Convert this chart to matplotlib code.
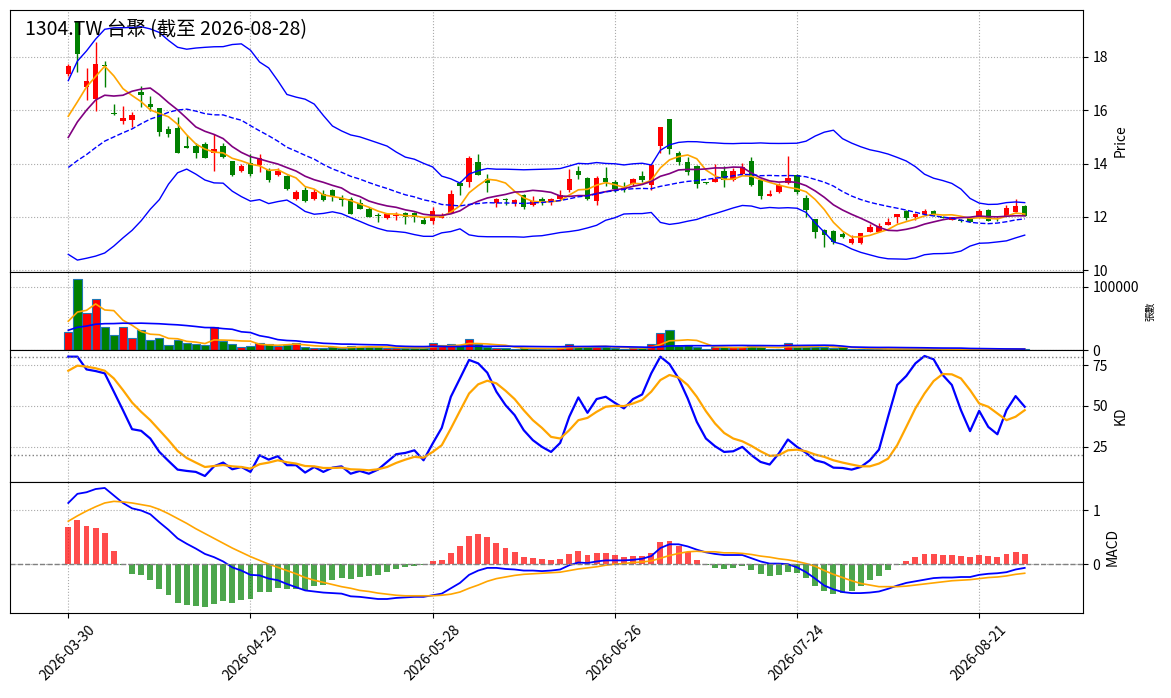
import numpy as np
import pandas as pd
import matplotlib
matplotlib.use("Agg")
import matplotlib.pyplot as plt

plt.rcParams['font.family'] = ['Noto Sans CJK TC', 'DejaVu Sans']
plt.rcParams['axes.unicode_minus'] = False

# trading days (TWSE holidays removed)
holidays = ["2026-04-03", "2026-04-06", "2026-05-01", "2026-06-19"]
dates = pd.bdate_range("2026-03-30", "2026-08-28", freq="C", holidays=holidays)

opens = [17.36, 19.30, 16.86, 16.42, 17.70, 15.88, 15.60, 15.62, 16.69, 16.23,
         16.08, 15.28, 15.35, 14.65, 14.65, 14.75, 14.40, 14.65, 14.09, 13.71,
         14.03, 13.96, 13.74, 13.58, 13.55, 12.67, 13.02, 12.67, 12.86, 13.02,
         12.70, 12.67, 12.52, 12.30, 12.06, 11.95, 12.04, 12.14, 12.14, 11.89,
         11.86, 11.97, 12.16, 13.27, 13.29, 14.05, 13.43, 12.52, 12.68, 12.52,
         12.83, 12.45, 12.68, 12.58, 12.67, 12.99, 13.71, 13.46, 12.58, 13.46,
         13.31, 13.07, 13.25, 13.55, 13.21, 14.65, 15.66, 14.38, 14.05, 13.92,
         13.29, 13.29, 13.71, 13.40, 13.62, 14.11, 13.40, 12.80, 12.92, 13.27,
         13.56, 12.70, 11.91, 11.51, 11.47, 11.35, 11.03, 11.03, 11.45, 11.45,
         11.70, 12.01, 12.23, 12.01, 12.10, 12.23, 12.00, 11.89, 11.89, 11.95,
         11.99, 12.26, 11.89, 12.05, 12.20, 12.42]
highs = [17.72, 19.31, 17.60, 18.55, 17.86, 16.23, 16.15, 15.92, 16.92, 16.53,
         16.10, 15.41, 15.76, 15.06, 14.78, 14.80, 15.09, 14.78, 14.10, 14.00,
         14.34, 14.34, 13.85, 13.85, 13.58, 13.02, 13.12, 13.06, 13.00, 13.04,
         12.83, 12.75, 12.68, 12.36, 12.16, 12.14, 12.20, 12.18, 12.20, 11.98,
         12.37, 12.15, 13.00, 13.33, 14.28, 14.34, 13.62, 12.70, 12.70, 12.68,
         12.85, 12.80, 12.74, 12.70, 12.99, 13.81, 13.92, 13.48, 13.52, 13.86,
         13.40, 13.29, 13.46, 13.71, 13.96, 15.37, 15.68, 14.46, 14.24, 13.94,
         13.32, 14.00, 13.92, 13.82, 14.01, 14.25, 13.42, 13.00, 13.27, 14.28,
         13.62, 12.83, 11.93, 11.53, 11.49, 11.45, 11.32, 11.41, 11.74, 11.77,
         11.95, 12.10, 12.27, 12.14, 12.30, 12.25, 12.03, 12.00, 11.92, 11.97,
         12.30, 12.30, 11.99, 12.45, 12.67, 12.44]
lows = [17.30, 17.43, 16.40, 15.97, 16.86, 15.81, 15.47, 15.36, 16.11, 15.96,
        15.03, 15.01, 14.40, 14.58, 14.19, 14.19, 13.71, 14.19, 13.52, 13.67,
        13.55, 13.67, 13.30, 13.55, 13.00, 12.64, 12.56, 12.62, 12.58, 12.58,
        12.42, 12.09, 12.28, 11.99, 11.82, 11.92, 11.89, 11.74, 11.80, 11.72,
        11.74, 11.95, 12.14, 12.83, 13.12, 13.56, 12.95, 12.37, 12.45, 12.42,
        12.30, 12.40, 12.45, 12.45, 12.64, 12.92, 13.43, 12.65, 12.45, 13.14,
        12.92, 12.95, 13.15, 13.31, 12.99, 14.40, 14.34, 13.95, 13.58, 13.10,
        13.24, 13.29, 13.13, 13.36, 13.58, 13.15, 12.67, 12.78, 12.90, 13.25,
        12.85, 11.99, 11.20, 10.88, 11.00, 11.22, 11.00, 11.00, 11.43, 11.43,
        11.68, 11.76, 11.90, 11.89, 12.06, 12.03, 11.95, 11.87, 11.82, 11.80,
        11.97, 11.83, 11.85, 12.03, 12.18, 12.05]
closes = [17.67, 18.09, 17.10, 17.74, 17.65, 15.85, 15.70, 15.81, 16.58, 16.11,
          15.18, 15.09, 14.40, 14.60, 14.40, 14.21, 14.53, 14.25, 13.58, 13.92,
          13.60, 14.21, 13.40, 13.71, 13.06, 12.92, 12.58, 12.93, 12.62, 12.77,
          12.62, 12.11, 12.30, 12.01, 12.04, 12.11, 12.06, 11.99, 11.99, 11.74,
          12.23, 12.08, 12.87, 13.14, 14.19, 13.58, 13.27, 12.68, 12.62, 12.64,
          12.37, 12.58, 12.58, 12.67, 12.83, 13.43, 13.56, 12.67, 13.46, 13.29,
          13.05, 13.05, 13.43, 13.37, 13.96, 15.37, 14.55, 14.05, 13.67, 13.25,
          13.27, 13.43, 13.40, 13.71, 13.88, 13.21, 12.79, 12.87, 13.21, 13.46,
          12.92, 12.24, 11.42, 11.32, 11.07, 11.26, 11.17, 11.41, 11.61, 11.64,
          11.80, 12.10, 11.95, 12.10, 12.23, 12.09, 11.97, 11.99, 11.83, 11.82,
          12.23, 11.86, 11.87, 12.33, 12.42, 12.05]
volumes = [28600, 112000, 58700, 80400, 36500, 23300, 36500, 18500, 31200, 15300,
           19000, 7900, 15300, 11100, 9000, 7400, 36500, 14300, 9000, 4200,
           5800, 11600, 9500, 6300, 8500, 11100, 4800, 2600, 2600, 4800,
           3700, 6300, 5300, 4800, 4200, 3700, 3200, 3700, 3200, 3200,
           11100, 7400, 9000, 7400, 16900, 10100, 4200, 3200, 3200, 2100,
           2600, 2100, 2100, 2100, 3200, 9500, 4800, 4800, 4800, 4800,
           3200, 2100, 3200, 2600, 9000, 26500, 31200, 6300, 7400, 4200,
           1000, 5300, 4800, 4200, 4800, 6300, 4200, 2100, 2100, 11100,
           5300, 5300, 5300, 5300, 3200, 4200, 2100, 1600, 1600, 1600,
           1600, 2100, 1600, 1600, 1600, 1600, 1000, 1000, 1000, 1000,
           1600, 1600, 1000, 1600, 1600, 1600]

# the 19 sessions before the window, only used to warm up the averages
prev_closes = [12.9, 12.6, 12.5, 12.8, 12.7, 12.6, 12.9, 12.7, 12.6, 12.9,
               12.29, 12.7, 13.94, 15.85, 16.15, 15.4, 14.31, 15.78, 15.71]
prev_volumes = [18000, 20000, 22000, 19000, 21000, 24000, 23000, 26000, 25000, 28000,
                27000, 30000, 35000, 38000, 40000, 40000, 45000, 30000, 84000]

k_line = [80.1, 80.1, 72.3, 71.3, 69.9, 58.7, 47.4, 35.8, 34.8, 30.1,
          21.9, 16.4, 11.1, 10.3, 9.7, 7.2, 13.1, 15.4, 11.3, 12.7,
          9.7, 19.9, 17.2, 19.3, 13.8, 13.8, 9.3, 12.7, 9.7, 12.3,
          13.1, 8.6, 10.3, 8.6, 11.1, 15.8, 20.5, 21.3, 22.9, 16.8,
          27.0, 36.6, 55.6, 66.8, 78.1, 76.0, 70.3, 58.7, 50.5, 44.4,
          35.2, 29.1, 25.0, 21.9, 27.4, 43.4, 55.2, 45.8, 54.2, 55.6,
          51.9, 48.5, 54.2, 57.0, 69.9, 80.1, 75.6, 66.8, 54.6, 40.3,
          30.1, 25.4, 21.9, 22.3, 25.0, 19.9, 15.8, 14.2, 20.9, 29.5,
          25.0, 21.3, 16.8, 15.4, 12.3, 12.1, 11.1, 12.7, 16.8, 23.3,
          43.4, 62.8, 68.3, 76.0, 80.5, 78.5, 68.9, 62.8, 47.4, 34.6,
          47.0, 37.2, 32.7, 47.4, 56.0, 49.5]
d_line = [71.5, 74.6, 74.0, 73.0, 71.5, 66.8, 59.7, 52.1, 46.4, 41.3,
          35.2, 29.1, 22.5, 18.2, 15.4, 12.7, 13.3, 13.9, 13.1, 12.7,
          11.7, 14.4, 15.4, 16.8, 15.6, 14.8, 13.3, 13.1, 12.1, 12.1,
          12.3, 11.3, 11.1, 10.7, 11.3, 12.7, 15.2, 17.2, 18.9, 18.4,
          21.9, 26.0, 36.2, 47.0, 57.6, 63.2, 65.4, 63.8, 59.3, 54.2,
          47.4, 41.3, 36.6, 31.1, 30.1, 35.2, 41.3, 42.7, 46.4, 49.5,
          50.1, 49.9, 51.5, 53.6, 58.7, 65.8, 68.9, 67.4, 62.8, 55.6,
          46.8, 39.3, 33.5, 30.1, 28.4, 25.6, 22.3, 19.5, 19.9, 22.9,
          23.3, 22.3, 20.3, 18.9, 16.8, 15.4, 14.2, 13.1, 13.1, 14.8,
          17.8, 26.0, 37.2, 48.5, 57.6, 65.2, 69.5, 69.3, 66.8, 59.7,
          51.5, 49.5, 45.4, 41.3, 43.4, 47.4]

dif = [1.14, 1.31, 1.34, 1.40, 1.42, 1.28, 1.14, 1.04, 1.00, 0.93,
       0.78, 0.64, 0.48, 0.38, 0.29, 0.19, 0.13, 0.05, -0.06, -0.12,
       -0.20, -0.21, -0.27, -0.30, -0.37, -0.43, -0.49, -0.51, -0.53, -0.54,
       -0.55, -0.60, -0.61, -0.63, -0.65, -0.65, -0.63, -0.62, -0.61, -0.61,
       -0.58, -0.55, -0.45, -0.35, -0.20, -0.12, -0.07, -0.07, -0.09, -0.10,
       -0.12, -0.12, -0.13, -0.12, -0.10, -0.02, 0.03, 0.02, 0.05, 0.07,
       0.07, 0.07, 0.08, 0.10, 0.15, 0.30, 0.37, 0.37, 0.33, 0.27,
       0.22, 0.19, 0.17, 0.17, 0.17, 0.11, 0.05, 0.01, 0.01, 0.00,
       -0.06, -0.15, -0.27, -0.40, -0.47, -0.52, -0.54, -0.54, -0.53, -0.51,
       -0.46, -0.40, -0.35, -0.32, -0.29, -0.26, -0.25, -0.25, -0.24, -0.24,
       -0.20, -0.18, -0.17, -0.15, -0.10, -0.07]
dea = [0.80, 0.90, 0.99, 1.07, 1.14, 1.17, 1.16, 1.14, 1.11, 1.08,
       1.02, 0.94, 0.85, 0.76, 0.66, 0.57, 0.48, 0.39, 0.30, 0.22,
       0.14, 0.07, 0.00, -0.06, -0.12, -0.18, -0.25, -0.30, -0.34, -0.38,
       -0.42, -0.45, -0.49, -0.51, -0.54, -0.56, -0.58, -0.59, -0.59, -0.59,
       -0.59, -0.58, -0.56, -0.52, -0.45, -0.39, -0.32, -0.27, -0.24, -0.21,
       -0.19, -0.18, -0.17, -0.16, -0.15, -0.12, -0.09, -0.07, -0.05, -0.02,
       0.00, 0.01, 0.03, 0.04, 0.06, 0.11, 0.16, 0.20, 0.23, 0.24,
       0.23, 0.23, 0.21, 0.21, 0.20, 0.18, 0.15, 0.13, 0.10, 0.08,
       0.05, 0.01, -0.04, -0.12, -0.19, -0.25, -0.31, -0.36, -0.39, -0.42,
       -0.42, -0.42, -0.41, -0.39, -0.37, -0.35, -0.33, -0.31, -0.30, -0.29,
       -0.27, -0.25, -0.24, -0.22, -0.19, -0.17]
osc = [0.69, 0.82, 0.71, 0.67, 0.58, 0.24, -0.01, -0.19, -0.20, -0.30,
       -0.47, -0.58, -0.72, -0.76, -0.78, -0.80, -0.75, -0.69, -0.73, -0.67,
       -0.65, -0.52, -0.52, -0.45, -0.47, -0.47, -0.49, -0.41, -0.39, -0.30,
       -0.26, -0.28, -0.24, -0.22, -0.20, -0.15, -0.09, -0.06, -0.03, -0.01,
       0.06, 0.07, 0.20, 0.34, 0.52, 0.56, 0.50, 0.39, 0.30, 0.22,
       0.13, 0.11, 0.09, 0.07, 0.09, 0.19, 0.24, 0.17, 0.21, 0.21,
       0.17, 0.13, 0.15, 0.15, 0.20, 0.41, 0.43, 0.34, 0.22, 0.07,
       -0.01, -0.07, -0.09, -0.07, -0.04, -0.11, -0.19, -0.22, -0.20, -0.15,
       -0.17, -0.26, -0.41, -0.50, -0.56, -0.54, -0.50, -0.41, -0.30, -0.22,
       -0.11, -0.01, 0.06, 0.13, 0.19, 0.19, 0.17, 0.17, 0.15, 0.13,
       0.17, 0.15, 0.13, 0.19, 0.22, 0.19]

# indicators
n_prev = len(prev_closes)
c_all = pd.Series(prev_closes + closes)
v_all = pd.Series(prev_volumes + volumes)
ma5 = c_all.rolling(5).mean().values[n_prev:]
ma10 = c_all.rolling(10).mean().values[n_prev:]
ma20 = c_all.rolling(20).mean().values[n_prev:]
std20 = c_all.rolling(20).std().values[n_prev:]
upper = ma20 + 2 * std20
lower = ma20 - 2 * std20
vma5 = v_all.rolling(5).mean().values[n_prev:]
vma20 = v_all.rolling(20).mean().values[n_prev:]

o = np.array(opens)
c = np.array(closes)
x = np.arange(len(dates))
colors = np.where(c >= o, 'red', 'green')

fig = plt.figure(figsize=(11.71, 6.98), dpi=100)
W, H = 1171, 698
def panel(top, bottom):
    return fig.add_axes([10 / W, (H - bottom) / H, 1073 / W, (bottom - top) / H])

ax1 = panel(10, 272)
ax2 = panel(272, 350)
ax3 = panel(350, 482)
ax4 = panel(482, 613)

# price
ax1.vlines(x, lows, highs, color=colors, linewidth=1, zorder=2)
body = np.maximum(np.abs(c - o), 0.02)
ax1.bar(x, body, bottom=np.minimum(o, c), width=0.6, color=colors, zorder=2)
ax1.plot(x, ma5, color='orange', lw=1.2, zorder=3)
ax1.plot(x, ma10, color='purple', lw=1.2, zorder=3)
ax1.plot(x, ma20, color='blue', lw=1, ls='--', zorder=3)
ax1.plot(x, upper, color='blue', lw=1, zorder=3)
ax1.plot(x, lower, color='blue', lw=1, zorder=3)
lo = min(np.min(lows), np.nanmin(lower))
hi = max(np.max(highs), np.nanmax(upper))
pad = (hi - lo) * 0.05
ax1.set_ylim(lo - pad, hi + pad)
ax1.set_ylabel('Price')
ax1.text(0.014, 0.924, '1304.TW 台聚 (截至 2026-08-28)', transform=ax1.transAxes,
         fontsize=14, va='center', ha='left')

# volume
ax2.bar(x, volumes, width=0.9, color=colors, edgecolor='#1f77b4', linewidth=0.8)
ax2.plot(x, vma5, color='orange', lw=1.2)
ax2.plot(x, vma20, color='blue', lw=1.2)
ax2.set_ylim(0, max(volumes) * 1.1)
ax2.set_yticks([0, 100000])
ax2.set_yticklabels(['0', '100000'])
ax2.set_ylabel('張數', fontsize=7)

# KD
ax3.plot(x, k_line, color='blue', lw=1.6)
ax3.plot(x, d_line, color='orange', lw=1.6)
ax3.axhline(80, color='gray', ls=':', lw=1)
ax3.axhline(20, color='gray', ls=':', lw=1)
ax3.set_yticks([25, 50, 75])
ax3.set_ylabel('KD')

# MACD
ax4.bar(x, osc, width=0.65, color=np.where(np.array(osc) >= 0, 'red', 'green'), alpha=0.7)
ax4.plot(x, dif, color='blue', lw=1.3)
ax4.plot(x, dea, color='orange', lw=1.2)
ax4.axhline(0, color='gray', ls='--', lw=1)
ax4.set_yticks([0, 1])
ax4.set_ylabel('MACD')

tick_pos = list(range(0, len(dates), 20))
for ax in (ax1, ax2, ax3, ax4):
    ax.set_xlim(-6.4, 111.4)
    ax.yaxis.tick_right()
    ax.yaxis.set_label_position('right')
    ax.grid(True, linestyle=':', color='#aaaaaa')
    ax.set_axisbelow(True)
    ax.set_xticks(tick_pos)
    if ax is not ax4:
        ax.tick_params(labelbottom=False)
ax4.set_xticklabels([dates[i].strftime('%Y-%m-%d') for i in tick_pos], rotation=45)

fig.savefig('out.png', dpi=100)
